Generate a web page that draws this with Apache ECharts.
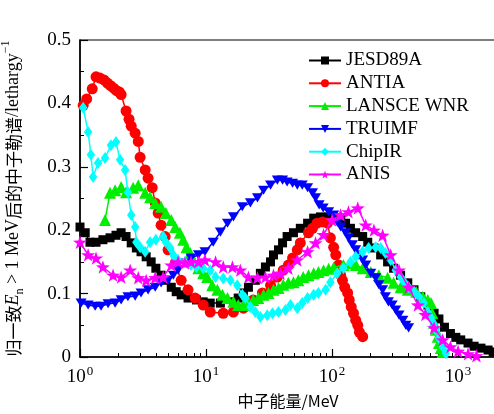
<!DOCTYPE html>
<html>
<head>
<meta charset="utf-8">
<script src="https://cdn.jsdelivr.net/npm/echarts@6/dist/echarts.min.js"></script>
<style>html,body{margin:0;padding:0;background:#fff}#c{width:494px;height:414px}</style>
</head>
<body>
<div id="c"></div>
<script>
// ---- data (x in MeV, y in lethargy^-1) ----
const seriesNames = ['JESD89A', 'ANTIA', 'LANSCE WNR', 'TRUIMF', 'ChipIR', 'ANIS'];
const jesd89a = [[1.0,0.205],[1.1,0.196],[1.2,0.181],[1.34,0.181],[1.52,0.185],[1.73,0.188],[1.93,0.192],[2.12,0.196],[2.32,0.19],[2.55,0.18],[2.8,0.172],[3.05,0.166],[3.35,0.158],[3.67,0.15],[4.0,0.14],[4.4,0.129],[4.8,0.121],[5.3,0.11],[5.8,0.103],[6.35,0.098],[7.2,0.093],[8.4,0.09],[9.5,0.087],[10.8,0.085],[13,0.085],[16.5,0.087],[18,0.093],[19.8,0.101],[21.7,0.11],[24.6,0.121],[27,0.132],[29.6,0.142],[32.5,0.15],[34.3,0.161],[37.6,0.169],[40.5,0.18],[44,0.19],[49.4,0.196],[56,0.203],[64,0.211],[71.5,0.219],[81,0.221],[94,0.221],[107,0.219],[117,0.219],[128,0.211],[140,0.203],[154,0.196],[175,0.19],[192,0.181],[215,0.172],[243,0.161],[276,0.15],[308,0.14],[350,0.129],[399,0.117],[447,0.106],[506,0.095],[575,0.082],[645,0.069],[705,0.06],[780,0.047],[870,0.037],[960,0.031],[1050,0.027],[1200,0.022],[1340,0.017],[1520,0.014],[1730,0.011],[1900,0.008]];
const antia = [[1.06,0.397],[1.13,0.407],[1.25,0.423],[1.34,0.442],[1.44,0.44],[1.55,0.437],[1.65,0.432],[1.75,0.428],[1.85,0.424],[1.95,0.42],[2.05,0.418],[2.12,0.414],[2.32,0.388],[2.45,0.375],[2.55,0.364],[2.74,0.353],[2.9,0.34],[3.0,0.315],[3.29,0.295],[3.47,0.282],[3.74,0.267],[3.95,0.243],[4.17,0.227],[4.4,0.208],[4.74,0.19],[5.0,0.169],[5.7,0.148],[6.35,0.121],[7.2,0.106],[8.2,0.093],[9.5,0.082],[10.8,0.071],[13.7,0.069],[16.5,0.071],[19.8,0.077],[23.7,0.09],[28,0.101],[32.5,0.113],[36.8,0.126],[41,0.137],[45,0.145],[48.6,0.156],[53,0.169],[56,0.18],[65,0.196],[70,0.203],[76,0.211],[84,0.213],[92,0.211],[97,0.188],[103,0.173],[107,0.161],[113,0.145],[117,0.129],[121,0.121],[126,0.11],[133,0.101],[137,0.09],[142,0.079],[148,0.069],[154,0.058],[160,0.05],[165,0.039],[175,0.032]];
const lansce = [[1.58,0.216],[1.73,0.259],[1.9,0.263],[2.12,0.268],[2.32,0.26],[2.64,0.267],[2.9,0.271],[3.29,0.259],[3.6,0.252],[3.95,0.243],[4.4,0.237],[4.8,0.227],[5.3,0.216],[5.7,0.205],[6.2,0.196],[6.6,0.185],[7.0,0.173],[7.5,0.164],[7.9,0.153],[8.7,0.14],[9.5,0.132],[10.2,0.126],[11.2,0.113],[12.3,0.106],[13.5,0.098],[14.8,0.093],[16.5,0.087],[18,0.082],[19.8,0.082],[21.7,0.087],[23.7,0.09],[26,0.093],[28.6,0.098],[31.3,0.101],[34.3,0.106],[37.6,0.109],[41,0.114],[45,0.117],[49.4,0.118],[54,0.121],[59,0.126],[65,0.129],[71.5,0.132],[78,0.134],[85.6,0.137],[94,0.139],[103,0.141],[123,0.145],[140,0.148],[155,0.145],[175,0.14],[203,0.134],[235,0.129],[276,0.125],[308,0.117],[350,0.11],[399,0.106],[465,0.103],[525,0.095],[575,0.09],[610,0.085],[625,0.069],[645,0.054],[665,0.043],[690,0.032],[705,0.022],[730,0.014],[755,0.008]];
const truimf = [[1.02,0.085],[1.16,0.082],[1.32,0.08],[1.47,0.08],[1.67,0.084],[1.9,0.085],[2.12,0.09],[2.4,0.095],[2.74,0.096],[3.05,0.101],[3.47,0.106],[3.95,0.11],[4.4,0.117],[5.0,0.121],[5.5,0.129],[6.0,0.137],[6.8,0.148],[7.6,0.156],[8.7,0.161],[9.8,0.166],[11.4,0.181],[13,0.197],[14.8,0.211],[16.5,0.221],[19.4,0.237],[22.5,0.243],[25.6,0.251],[28.6,0.263],[32.5,0.271],[36.8,0.279],[40.5,0.279],[44,0.276],[48.6,0.274],[53,0.271],[58,0.271],[64,0.267],[70,0.259],[74,0.251],[79,0.24],[85,0.235],[94,0.229],[103,0.224],[110,0.213],[117,0.205],[128,0.196],[135,0.188],[145,0.177],[154,0.169],[163,0.161],[175,0.153],[185,0.145],[203,0.132],[222,0.125],[235,0.114],[252,0.106],[265,0.095],[280,0.087],[300,0.082],[320,0.074],[340,0.066],[365,0.058],[385,0.05],[405,0.046]];
const chipir = [[1.06,0.393],[1.16,0.355],[1.22,0.319],[1.27,0.284],[1.39,0.306],[1.58,0.314],[1.76,0.334],[1.93,0.339],[2.08,0.311],[2.28,0.295],[2.4,0.26],[2.55,0.224],[2.74,0.205],[2.8,0.181],[3.0,0.173],[3.29,0.166],[3.6,0.181],[4.0,0.185],[4.57,0.19],[4.8,0.181],[5.2,0.172],[5.5,0.161],[6.0,0.153],[6.8,0.15],[7.6,0.145],[8.4,0.142],[9.5,0.14],[10.8,0.137],[11.9,0.126],[13.7,0.124],[15.6,0.121],[17.7,0.113],[19.4,0.098],[20.5,0.093],[22.5,0.079],[24.6,0.071],[27,0.063],[30.6,0.066],[33.7,0.069],[37.6,0.071],[42.7,0.074],[46.8,0.082],[53,0.077],[58,0.085],[64,0.093],[71.5,0.098],[78,0.101],[89,0.106],[97,0.118],[110,0.132],[123,0.14],[140,0.15],[154,0.158],[175,0.166],[195,0.172],[222,0.173],[243,0.172],[265,0.164],[292,0.153],[320,0.137],[350,0.126],[375,0.118],[405,0.11],[447,0.103],[490,0.095],[535,0.085],[575,0.071],[610,0.062],[640,0.052],[665,0.043],[705,0.03],[755,0.016],[800,0.006]];
const anis = [[1.0,0.181],[1.16,0.161],[1.34,0.156],[1.52,0.142],[1.83,0.129],[2.12,0.126],[2.5,0.137],[2.9,0.125],[3.35,0.121],[3.95,0.125],[4.57,0.126],[5.3,0.145],[6.0,0.15],[6.8,0.148],[7.6,0.15],[8.7,0.15],[9.8,0.153],[11.9,0.15],[13.7,0.142],[16.2,0.142],[18.7,0.137],[21.7,0.126],[25.6,0.125],[29.6,0.126],[34.3,0.129],[39,0.132],[45,0.14],[53,0.153],[64,0.166],[74,0.18],[85.6,0.193],[100,0.216],[117,0.224],[135,0.229],[160,0.235],[185,0.208],[215,0.2],[252,0.192],[292,0.161],[340,0.137],[405,0.11],[480,0.082],[550,0.067],[645,0.046],[755,0.027],[870,0.016],[1000,0.009],[1200,0.005],[1400,0.002]];
const majorTicksX = [1, 10, 100, 1000];
const minorTicksX = [2,3,4,5,6,7,8,9,20,30,40,50,60,70,80,90,200,300,400,500,600,700,800,900,2000];

const colors = ['#000000', '#ff0000', '#00ee00', '#0000ff', '#00ffff', '#ff00ff'];
const STAR = 'path://M0,-10 L2.35,-3.24 L9.51,-3.09 L3.8,1.24 L5.88,8.09 L0,4 L-5.88,8.09 L-3.8,1.24 L-9.51,-3.09 L-2.35,-3.24 Z';
const DOWN = 'path://M0,9 L-9,-6 L9,-6 Z';
const DIAMOND = 'path://M0,-10 L7,0 L0,10 L-7,0 Z';
const symbols = [['rect', 9], ['circle', 11], ['triangle', 12], [DOWN, 11], [DIAMOND, 12], [STAR, 14]];
const datas = [jesd89a, antia, lansce, truimf, chipir, anis];

const SERIF = '"Liberation Serif", "DejaVu Serif", serif';
const CJK = '"Noto Sans CJK SC", sans-serif';

const chart = echarts.init(document.getElementById('c'), null, { renderer: 'canvas' });
chart.setOption({
  animation: false,
  backgroundColor: '#fff',
  grid: { left: 80, top: 40, right: -2, bottom: 57, show: true, borderColor: '#000', borderWidth: 1.2,
          containLabel: false, outerBoundsMode: 'none' },
  legend: {
    orient: 'vertical', left: 303, top: 46,
    itemWidth: 32, itemHeight: 10, itemGap: 3.8,
    textStyle: { fontFamily: SERIF, fontSize: 19, color: '#000', lineHeight: 18 },
    data: seriesNames
  },
  xAxis: [{
    type: 'log', logBase: 10, min: 1, max: 2000, position: 'bottom',
    axisLine: { lineStyle: { color: '#000', width: 1.5 } },
    axisTick: { inside: true, length: 8, customValues: majorTicksX, lineStyle: { color: '#000', width: 1.2 } },
    splitLine: { show: false },
    axisLabel: {
      customValues: majorTicksX,
      margin: 8,
      formatter: function (v) { return '{b|10}{s|' + Math.round(Math.log10(v)) + '}'; },
      rich: {
        b: { fontFamily: SERIF, fontSize: 19, color: '#000', lineHeight: 22, verticalAlign: 'bottom' },
        s: { fontFamily: SERIF, fontSize: 13, color: '#000', lineHeight: 22, verticalAlign: 'top', padding: [0, 0, 0, 1] }
      }
    },
    name: '中子能量/MeV', nameLocation: 'middle', nameGap: 36,
    nameTextStyle: { fontFamily: CJK, fontSize: 16, color: '#000' }
  }, {
    type: 'log', logBase: 10, min: 1, max: 2000, position: 'bottom',
    axisLine: { show: false },
    axisTick: { inside: true, length: 4, customValues: minorTicksX, lineStyle: { color: '#000', width: 1 } },
    axisLabel: { show: false },
    splitLine: { show: false }
  }],
  yAxis: {
    type: 'value', min: 0, max: 0.5, interval: 0.1,
    axisLine: { show: true, lineStyle: { color: '#000', width: 1.5 } },
    axisTick: { inside: true, length: 8, lineStyle: { color: '#000', width: 1.2 } },
    minorTick: { show: true, splitNumber: 2, length: 4, lineStyle: { color: '#000', width: 1 } },
    splitLine: { show: false },
    axisLabel: {
      margin: 9, fontFamily: SERIF, fontSize: 19, color: '#000',
      formatter: function (v) { return v === 0 ? '0' : v.toFixed(1); }
    },
    name: '{c|归一致}{i|E}{sub|n}{r| > 1 MeV}{c|后的中子勒谱}{r|/lethargy}{sup|−1}',
    nameLocation: 'middle', nameGap: 58, nameRotate: 90,
    nameTextStyle: {
      rich: {
        c: { fontFamily: CJK, fontSize: 17, color: '#000', lineHeight: 22, verticalAlign: 'bottom' },
        i: { fontFamily: SERIF, fontStyle: 'italic', fontSize: 18, color: '#000', lineHeight: 22, verticalAlign: 'bottom' },
        sub: { fontFamily: SERIF, fontSize: 12, color: '#000', lineHeight: 22, verticalAlign: 'bottom', padding: [0, 0, -4, 0] },
        r: { fontFamily: SERIF, fontSize: 18, color: '#000', lineHeight: 22, verticalAlign: 'bottom' },
        sup: { fontFamily: SERIF, fontSize: 12, color: '#000', lineHeight: 22, verticalAlign: 'top' }
      }
    }
  },
  series: datas.map(function (d, i) {
    return {
      name: seriesNames[i], type: 'line', xAxisIndex: 0, data: d,
      symbol: symbols[i][0], symbolSize: symbols[i][1], symbolKeepAspect: true,
      showAllSymbol: true,
      lineStyle: { color: colors[i], width: 1.5 },
      itemStyle: { color: colors[i], borderWidth: 0 },
      z: 2 + i
    };
  })
});
</script>
</body>
</html>
